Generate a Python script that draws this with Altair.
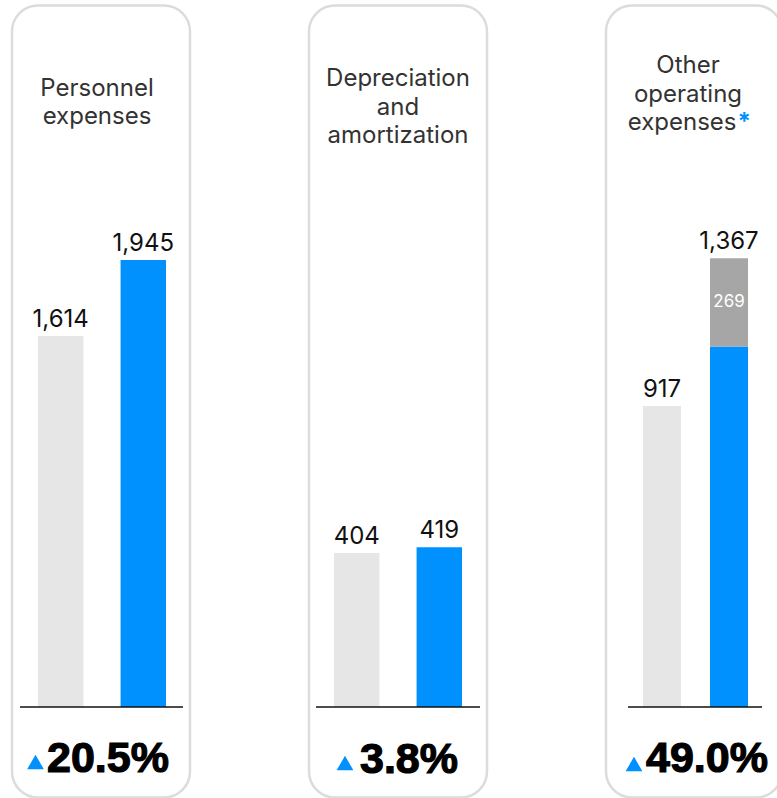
import altair as alt
import pandas as pd

# ---------------- data ----------------
panel_titles = [["Personnel", "expenses"],
                ["Depreciation", "and", "amortization"],
                ["Other", "operating", "expenses"]]
periods = ["prev", "curr"]
prev_values = [1614, 404, 917]
curr_values = [1945, 419, 1367]
one_off_values = [0, 0, 269]          # grey part inside the current bar
pct_changes = [20.5, 3.8, 49.0]
title_asterisk = [False, False, True]

# ---------------- style / layout ----------------
BLUE = "#0091FF"
LIGHT = "#E6E6E6"
DARK = "#A6A6A6"
BORDER = "#DCDCDC"
FONT = "Inter"
PFONT = "Liberation Sans"

W, H = 777, 798
OY = 4
layout = [
    dict(ox=11, rect_x2=179, xr=[27, 155], pin=0.45, top=256, rule=(9, 172),
         tx=86, ty=[92, 120], tri=(24.5, 758), px=36, py=768),
    dict(ox=308, rect_x2=179, xr=[26, 154], pin=0.45, top=543.3, rule=(8, 172),
         tx=90, ty=[82, 110.5, 139], tri=(37, 759), px=52, py=769),
    dict(ox=605, rect_x2=177, xr=[38, 143], pin=0.433, top=254.3, rule=(23, 157),
         tx=83, ty=[69.3, 97.7, 126], tri=(29, 760), px=41, py=767.7,
         last_x=131.5, star_x=132.5),
]
BASE = 703


def X(v, L):
    return L["ox"] + v


def Y(v):
    return OY + v


panels = []
for i in range(3):
    L = layout[i]
    prev_v, curr_v, extra = prev_values[i], curr_values[i], one_off_values[i]
    segs = pd.DataFrame({
        "period": ["prev", "curr", "curr"],
        "start": [0, 0, curr_v - extra],
        "end": [prev_v, curr_v - extra, curr_v],
        "seg": ["prev", "curr", "extra"],
    })
    segs = segs[segs["end"] > segs["start"]]
    totals = pd.DataFrame({"period": periods, "total": [prev_v, curr_v],
                           "label": [f"{prev_v:,}", f"{curr_v:,}"]})

    xsc = alt.Scale(domain=periods, range=[X(L["xr"][0], L), X(L["xr"][1], L)],
                    paddingInner=L["pin"], paddingOuter=0)
    ysc = alt.Scale(domain=[0, curr_v], range=[Y(BASE), Y(L["top"])], nice=False, zero=True)

    border = alt.Chart(pd.DataFrame({"a": [0]})).mark_rect(
        fill="white", stroke=BORDER, strokeWidth=2.5, cornerRadius=26
    ).encode(x=alt.value(X(1, L)), x2=alt.value(X(L["rect_x2"], L)),
             y=alt.value(Y(1.5)), y2=alt.value(Y(793.5)))

    bars = alt.Chart(segs).mark_bar().encode(
        x=alt.X("period:N", scale=xsc, axis=None),
        y=alt.Y("start:Q", scale=ysc, axis=None),
        y2="end:Q",
        color=alt.Color("seg:N", scale=alt.Scale(domain=["prev", "curr", "extra"],
                                                 range=[LIGHT, BLUE, DARK]), legend=None),
    )

    vals = alt.Chart(totals).mark_text(
        font=FONT, fontSize=24, color="#111111", baseline="alphabetic", dy=-9.5
    ).encode(
        x=alt.X("period:N", axis=None),
        y=alt.Y("total:Q", axis=None),
        text="label:N",
    )

    rule = alt.Chart(pd.DataFrame({"zero": [0]})).mark_rule(
        color="#111111", strokeWidth=1.5
    ).encode(x=alt.value(X(L["rule"][0], L)), x2=alt.value(X(L["rule"][1], L)),
             y=alt.Y("zero:Q", axis=None))

    layers = [border, bars, vals, rule]

    if extra > 0:
        ex = pd.DataFrame({"period": ["curr"], "mid": [curr_v - extra / 2],
                           "label": [f"{extra:,}"]})
        layers.append(alt.Chart(ex).mark_text(
            font=FONT, fontSize=17, color="white", baseline="middle"
        ).encode(
            x=alt.X("period:N", axis=None),
            y=alt.Y("mid:Q", axis=None),
            text="label:N",
        ))

    # title lines
    lines = panel_titles[i]
    for j, line in enumerate(lines):
        lx, al = L["tx"], "center"
        if title_asterisk[i] and j == len(lines) - 1:
            lx, al = L["last_x"], "right"
        layers.append(alt.Chart(pd.DataFrame({"t": [line]})).mark_text(
            font=FONT, fontSize=24, color="#333333", align=al,
            baseline="alphabetic"
        ).encode(x=alt.value(X(lx, L)), y=alt.value(Y(L["ty"][j])), text="t:N"))
    if title_asterisk[i]:
        layers.append(alt.Chart(pd.DataFrame({"t": ["*"]})).mark_text(
            font=FONT, fontSize=24, fontWeight="bold", color=BLUE, align="left",
            baseline="alphabetic"
        ).encode(x=alt.value(X(L["star_x"], L)), y=alt.value(Y(L["ty"][-1])), text="t:N"))

    # percentage change
    layers.append(alt.Chart(pd.DataFrame({"a": [0]})).mark_point(
        shape="triangle-up", size=280, filled=True, color=BLUE, opacity=1
    ).encode(x=alt.value(X(L["tri"][0], L)), y=alt.value(Y(L["tri"][1]))))
    layers.append(alt.Chart(pd.DataFrame({"t": [f"{pct_changes[i]:.1f}%"]})).mark_text(
        font=PFONT, fontSize=43, fontWeight="bold", color="black", align="left",
        baseline="alphabetic", stroke="black", strokeWidth=1.2
    ).encode(x=alt.value(X(L["px"], L)), y=alt.value(Y(L["py"])), text="t:N"))

    panels.append(alt.layer(*layers))

chart = alt.layer(*panels).resolve_scale(
    x="independent", y="independent", color="independent"
).properties(
    width=W, height=H,
    padding=0,
    autosize=alt.AutoSizeParams(type="none"),
    background="white",
).configure_view(stroke="transparent")

chart.save("out.html", embed_options={"renderer": "svg", "actions": False})
